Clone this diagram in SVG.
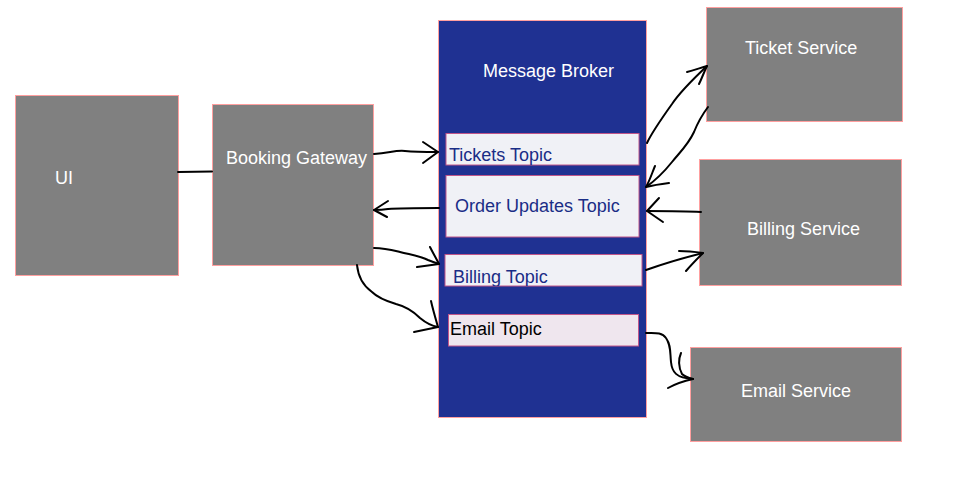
<svg xmlns="http://www.w3.org/2000/svg" width="966" height="477" viewBox="0 0 966 477">
<style>
.svc{fill:#808080;stroke:#ff9f9f;stroke-width:1}
.broker{fill:#1f3192;stroke:#ff9f9f;stroke-width:1}
.topic{fill:#f0f1f6;stroke:#c0568a;stroke-width:1}
.etopic{fill:#efe6ee;stroke:#c0568a;stroke-width:1}
.wt{font-family:"Liberation Sans",Arial,sans-serif;font-size:18px;fill:#ffffff}
.tt{font-family:"Liberation Sans",Arial,sans-serif;font-size:18px;fill:#1a2d86}
.bt{font-family:"Liberation Sans",Arial,sans-serif;font-size:18px;fill:#000000}
.ln{fill:none;stroke:#000;stroke-width:2;stroke-linecap:round;stroke-linejoin:round}
</style>
<defs>
<clipPath id="c1"><rect x="446" y="133" width="193" height="32"/></clipPath>
<clipPath id="c3"><rect x="445" y="254" width="197" height="32"/></clipPath>
</defs>
<rect width="966" height="477" fill="#ffffff"/>
<g id="ui"><rect class="svc" x="15.5" y="95.5" width="163" height="180"/><text class="wt" x="55" y="184">UI</text></g>
<g id="gateway"><rect class="svc" x="212.5" y="104.5" width="161" height="161"/><text class="wt" x="226" y="164">Booking Gateway</text></g>
<g id="broker"><rect class="broker" x="438.5" y="20.5" width="208" height="397"/><text class="wt" x="483" y="77">Message Broker</text></g>
<g id="tickets-topic"><rect class="topic" x="446" y="133.5" width="193" height="31.5"/><text class="tt" x="449" y="161" clip-path="url(#c1)">Tickets Topic</text></g>
<g id="order-topic"><rect class="topic" x="446" y="175.5" width="193" height="61.5"/><text class="tt" x="455" y="212">Order Updates Topic</text></g>
<g id="billing-topic"><rect class="topic" x="445" y="254.5" width="197" height="31.5"/><text class="tt" x="453" y="283" clip-path="url(#c3)">Billing Topic</text></g>
<g id="email-topic"><rect class="etopic" x="448.5" y="314.5" width="190" height="31.5"/><text class="bt" x="450" y="335">Email Topic</text></g>
<g id="ticket-service"><rect class="svc" x="706.5" y="7.5" width="196" height="114"/><text class="wt" x="745" y="54">Ticket Service</text></g>
<g id="billing-service"><rect class="svc" x="699.5" y="159.5" width="202" height="126"/><text class="wt" x="747" y="235">Billing Service</text></g>
<g id="email-service"><rect class="svc" x="690.5" y="347.5" width="211" height="94"/><text class="wt" x="741" y="397">Email Service</text></g>
<g id="connectors">
<path class="ln" d="M178 172 L212 171.5"/>
<path class="ln" d="M374 154 C390 153 395 150 405 151 C415 152 425 152 438 152"/>
<path class="ln" d="M423 142 L438 152 L423 163"/>
<path class="ln" d="M439 208 C420 208 400 208 388 209 C382 210 378 210 374 210"/>
<path class="ln" d="M388 201 L374 210 L387 217"/>
<path class="ln" d="M374 248 C385 248 392 250 400 252 C412 255 420 256 428 260 C433 262 436 263 439 264"/>
<path class="ln" d="M430 247 C433 253 436 258 439 264 L417 267"/>
<path class="ln" d="M357 265 C358 275 362 285 372 292 C378 298 386 301 396 304 C408 307 414 312 420 318 C426 323 432 326 438 327"/>
<path class="ln" d="M431 301 C433 310 436 320 438 327 L414 332"/>
<path class="ln" d="M647 143 C652 132 662 118 672 104 C680 92 690 82 707 66"/>
<path class="ln" d="M687 72 C695 70 700 68 707 66 C704 72 702 78 699 84"/>
<path class="ln" d="M708 107 C702 115 698 122 694 132 C688 145 680 152 672 162 C664 172 656 180 646 187"/>
<path class="ln" d="M655 166 C652 173 650 180 646 187 C654 185 661 184 669 183"/>
<path class="ln" d="M701 212 C685 211 665 211 647 211"/>
<path class="ln" d="M659 198 L647 211 L663 222"/>
<path class="ln" d="M646 270 C660 265 675 260 703 253"/>
<path class="ln" d="M679 251 C688 251 696 252 703 253 C697 259 691 265 686 271"/>
<path class="ln" d="M646 333 C655 333 662 332 666 338 C671 345 670 352 671 362 C672 372 676 378 693 379"/>
<path class="ln" d="M681 353 C678 360 679 368 682 374 C685 377 689 378 693 379"/>
<path class="ln" d="M668 388 C677 383 684 381 693 379"/>
</g>
</svg>
